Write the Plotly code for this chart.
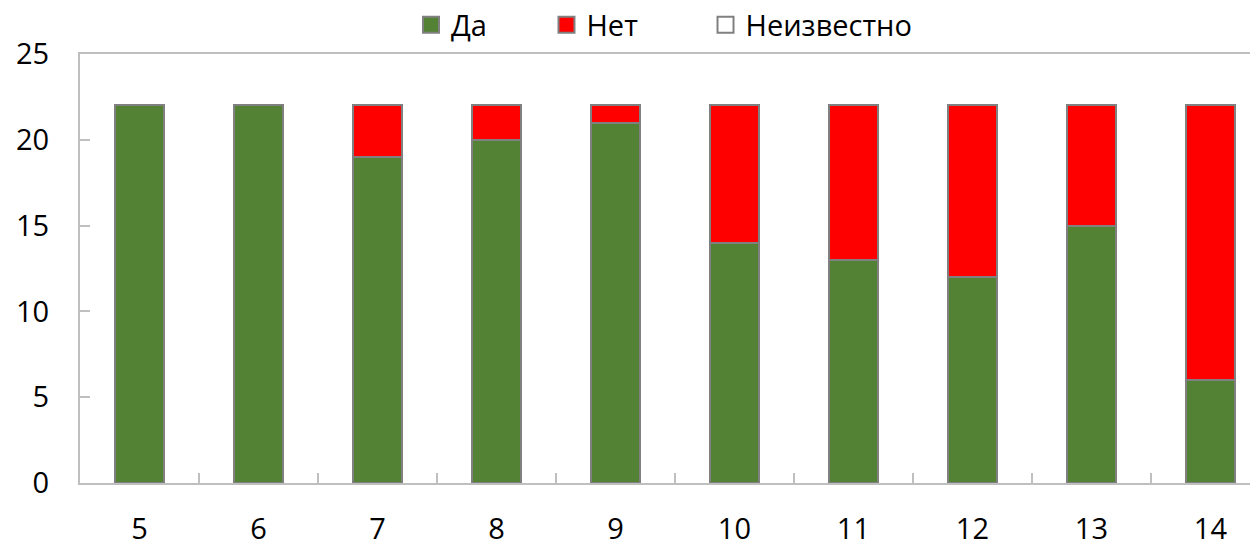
import plotly.graph_objects as go

categories = ["5", "6", "7", "8", "9", "10", "11", "12", "13", "14"]
da = [22, 22, 19, 20, 21, 14, 13, 12, 15, 6]
net = [0, 0, 3, 2, 1, 8, 9, 10, 7, 16]
unknown = [0, 0, 0, 0, 0, 0, 0, 0, 0, 0]

series = [
    ("Да", da, "#548235", "legend"),
    ("Нет", net, "#FF0000", "legend2"),
    ("Неизвестно", unknown, "#FFFFFF", "legend3"),
]

font_family = "Open Sans, Noto Sans, sans-serif"
line_col = "#808080"
axis_col = "#BFBFBF"

fig = go.Figure()
for name, vals, col, lg in series:
    fig.add_trace(go.Bar(x=categories, y=vals, name=name, showlegend=False,
                         marker=dict(color=col, line=dict(color=line_col, width=2))))
# legend entries with larger square swatches
for name, vals, col, lg in series:
    fig.add_trace(go.Scatter(x=[None], y=[None], name=name, mode="markers", legend=lg,
                             marker=dict(symbol="square", size=16, color=col,
                                         line=dict(color=line_col, width=2))))

leg_common = dict(orientation="h", y=1.068, yanchor="middle", xanchor="left",
                  bgcolor="rgba(0,0,0,0)", font=dict(size=29), itemclick=False,
                  itemdoubleclick=False)

fig.update_layout(
    barmode="stack",
    bargap=0.59,
    width=1250, height=536,
    margin=dict(l=72, r=0, t=46, b=61, autoexpand=False),
    paper_bgcolor="white", plot_bgcolor="white",
    font=dict(family=font_family, size=29, color="black"),
    showlegend=True,
    legend=dict(x=0.281, **leg_common),
    legend2=dict(x=0.396, **leg_common),
    legend3=dict(x=0.531, **leg_common),
    xaxis=dict(type="category", range=[-0.5, 9.4], showline=True, linecolor=axis_col,
               linewidth=2, mirror=True, ticks="inside", tickson="boundaries",
               ticklen=10, tickcolor=axis_col, tickwidth=2, showgrid=False,
               ticklabelstandoff=19, tickfont=dict(size=29), automargin=False),
    yaxis=dict(range=[0, 25], dtick=5, showline=True, linecolor=axis_col, linewidth=2,
               ticks="inside", ticklen=10, tickcolor=axis_col, tickwidth=2,
               showgrid=False, zeroline=False, ticklabelstandoff=23,
               tickfont=dict(size=29), automargin=False),
)

fig.write_html("out.html")
